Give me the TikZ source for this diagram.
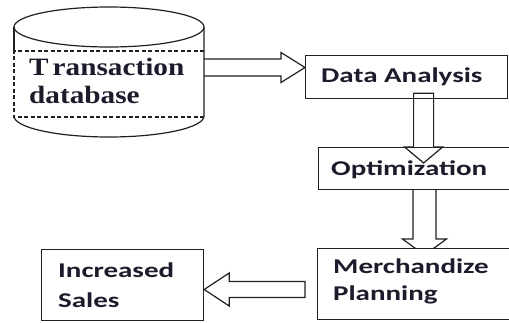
\documentclass[tikz,border=0pt]{standalone}
\usepackage{fontspec}
\usetikzlibrary{calc}
\newfontfamily\boxfont[FakeStretch=1.38]{Carlito}
\newfontfamily\dbfont[FakeStretch=1.17]{Liberation Serif}
\definecolor{ink}{HTML}{1B1B2B}
\definecolor{edge}{HTML}{202020}

\begin{document}
\begin{tikzpicture}[x=1pt,y=-1pt,
  outline/.style={draw=edge, line width=1.2pt},
  box/.style={outline, fill=white, rectangle, inner sep=0pt, anchor=north west},
  boxtext/.style={text=ink, inner sep=0pt, align=left, anchor=base west,
    font=\boxfont\bfseries\fontsize{21}{27}\selectfont},
  dbtext/.style={text=ink, inner sep=0pt, align=left, anchor=base west,
    font=\dbfont\bfseries\fontsize{25}{28}\selectfont},
  blockarrow/.style={outline, line join=miter},
  dbdash/.style={outline, dash pattern=on 4pt off 2.5pt},
]
\useasboundingbox (0,0) rectangle (509,322);
\clip (0,0) rectangle (509,322);

% database cylinder
\draw[outline] (109,27) ellipse [x radius=95pt, y radius=20pt];
\draw[outline] (14,51) -- (14,27);
\draw[outline] (204,27) -- (204,116)
  arc[start angle=0, end angle=-180, x radius=95pt, y radius=21pt];
\draw[dbdash] (204,51) -- (14,51) -- (14,117) -- (204,117);
\node[dbtext] (db-text) at (29,103) {T\kern4pt ransaction\\database};
\coordinate (db-east) at (204,67.5);

% process boxes
\node[box, minimum width=202pt, minimum height=43pt] (da) at (305,55) {};
\node[boxtext] (da-text) at (321,82) {Data Analysis};
\node[box, minimum width=220pt, minimum height=42pt] (opt) at (318,147) {};
\node[boxtext] (opt-text) at (331,175) {Optimization};
\node[box, minimum width=162pt, minimum height=71pt] (is) at (41,249) {};
\node[boxtext, font=\boxfont\bfseries\fontsize{21}{30}\selectfont]
  (is-text) at (58,307) {Increased\\Sales};

% database -> data analysis
\draw[blockarrow] let \p1=(db-east), \p2=(da.west) in
  (\x1,\y1+8.5pt) -- (\x2-24pt,\y1+8.5pt) -- (\x2-24pt,\y1+15pt) -- (\x2,\y1)
  -- (\x2-24pt,\y1-15pt) -- (\x2-24pt,\y1-8.5pt) -- (\x1,\y1-8.5pt);

% data analysis -> optimization
\coordinate (da-out) at ($(da.south)+(17,-6)$);
\draw[blockarrow] let \p1=(da-out), \p2=(opt.north) in
  (\x1-10pt,\y1) -- (\x1-10pt,\y2) -- (\x1-19pt,\y2) -- (\x1,\y2-16pt)
  -- (\x1+19pt,\y2) -- (\x1+10pt,\y2) -- (\x1+10pt,\y1) -- cycle;

% optimization -> merchandize planning (tip runs under the box)
\coordinate (opt-out) at (424.5,189);
\draw[blockarrow] let \p1=(opt-out) in
  (\x1-11.5pt,\y1) -- (\x1-11.5pt,\y1-50pt) -- (\x1-22pt,\y1-50pt) -- (\x1,\y1-66pt)
  -- (\x1+22pt,\y1-50pt) -- (\x1+11.5pt,\y1-50pt) -- (\x1+11.5pt,\y1);

\node[box, minimum width=220pt, minimum height=71pt] (mp) at (317,248) {};
\node[boxtext] (mp-text) at (333,300) {Merchandize\\Planning};

% merchandize planning -> increased sales
\coordinate (mp-out) at (305,289.5);
\draw[blockarrow] let \p1=(mp-out), \p2=(is.east) in
  (\x1,\y1+8pt) -- (\x2+25pt,\y1+8pt) -- (\x2+25pt,\y1+16.5pt) -- (\x2,\y1)
  -- (\x2+25pt,\y1-16.5pt) -- (\x2+25pt,\y1-8pt) -- (\x1,\y1-8pt) -- cycle;
\end{tikzpicture}
\end{document}
